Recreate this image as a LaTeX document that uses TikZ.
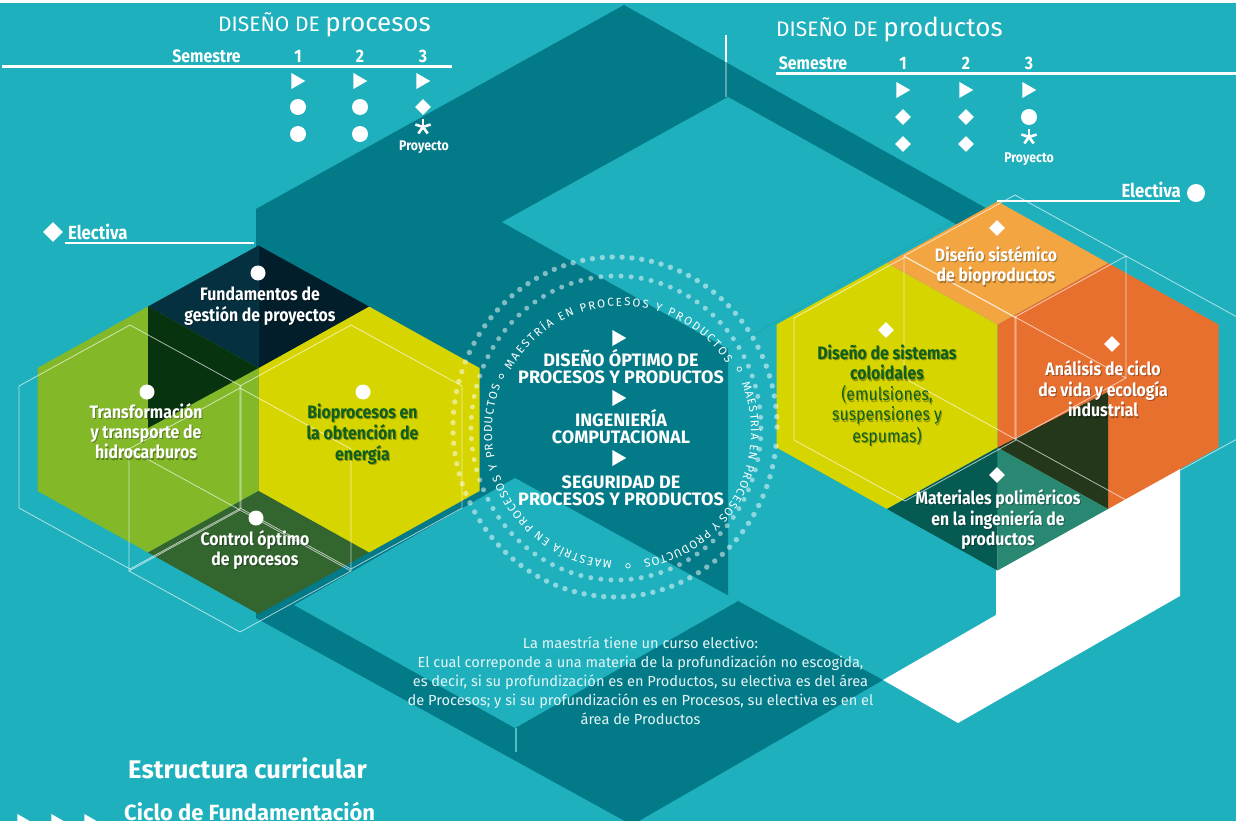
\documentclass[tikz,border=0pt]{standalone}
\usepackage{fontspec}
\setmainfont{Fira Sans}
\newfontfamily\cond[FakeStretch=0.88]{Fira Sans}
\usetikzlibrary{shapes.geometric,decorations.text}
\definecolor{bgl}{HTML}{1EB0BD}
\definecolor{bgd}{HTML}{037A88}
\definecolor{navyA}{HTML}{05303F}
\definecolor{navyB}{HTML}{021E2A}
\definecolor{dkgreen}{HTML}{07330F}
\definecolor{lgreen}{HTML}{83B829}
\definecolor{ylw}{HTML}{D6D500}
\definecolor{ctrl}{HTML}{33652F}
\definecolor{lorange}{HTML}{F2A541}
\definecolor{orng}{HTML}{E8702F}
\definecolor{matA}{HTML}{055B51}
\definecolor{matB}{HTML}{288872}
\definecolor{dkolive}{HTML}{25371A}
\definecolor{txtgreen}{HTML}{0F5F1E}
\definecolor{paratxt}{HTML}{E4F5F6}
\newcommand\ml[1]{\begin{tabular}[t]{@{}c@{}}#1\end{tabular}}
\newcommand\hexat[2]{(#1,#2) ++(0,-123) -- ++(110.5,61.5) -- ++(0,123) -- ++(-110.5,61.5) -- ++(-110.5,-61.5) -- ++(0,-123) -- cycle}
\newcommand\hexo[2]{(#1,#2) ++(0,-122) -- ++(111,61) -- ++(0,122) -- ++(-111,61) -- ++(-111,-61) -- ++(0,-122) -- cycle}
\newcommand\lbl[5]{%
  \node[#4, text=black, text opacity=0.3] (#1s) at (#2+1,#3+1.5) {\ml{#5}};
  \node[#4] (#1) at (#2,#3) {\ml{#5}};}
\tikzset{
  dotmark/.style={circle, fill=white, inner sep=0pt, minimum size=15pt},
  diamark/.style={diamond, fill=white, inner sep=0pt, minimum width=16pt, minimum height=16pt},
  trimark/.style={regular polygon, regular polygon sides=3, shape border rotate=-90, fill=white, inner sep=0pt, minimum size=18.5pt},
  hexline/.style={draw=white, draw opacity=0.65, line width=0.8pt},
  lab/.style={font=\cond\bfseries\fontsize{18}{20}\selectfont, text=white, anchor=base, inner sep=0pt},
  hb/.style={font=\cond\bfseries\fontsize{18}{18}\selectfont, text=white, inner sep=0pt},
  hd/.style={font=\fontsize{21}{21}\selectfont, text=white, inner sep=0pt, anchor=base west},
  cl/.style={font=\bfseries\fontsize{18}{18}\selectfont, text=white, inner sep=0pt, anchor=base},
  sepc/.style={circle, draw=white, line width=0.7pt, inner sep=0pt, minimum size=4.5pt},
  ringdot/.style={fill=white, fill opacity=0.5},
  circtext/.style={decorate, decoration={text along path, text color=white, text align={fit to path},
     text={|\fontsize{11.5}{11.5}\selectfont|MAESTRÍA EN PROCESOS Y PRODUCTOS}}}
}
\begin{document}
\begin{tikzpicture}[x=1pt,y=-1pt]
\useasboundingbox (0,0) rectangle (1236,821);
\fill[bgl] (0,0) rectangle (1236,821);
\fill[white] (0,0) rectangle (1236,3);
% dark background band
\fill[bgd] (624,5) -- (1000,216) -- (1000,249) -- (952,222) -- (728,349) -- (728,597) -- (738,601)
  -- (883,680) -- (632,825) -- (256,618) -- (256,209) -- cycle;
\fill[bgl] (502,222) -- (728,97) -- (952,222) -- (728,349) -- cycle;
\fill[bgl] (294,605) -- (515,478) -- (738,601) -- (515,728) -- cycle;
\draw[white, line width=2pt] (726,35) -- (726,62);
\draw[white, opacity=0.35, line width=1.5pt] (726,62) -- (726,97);
\draw[bgl!80!white, line width=1.5pt] (516,728) -- (516,752);
% white block
\fill[white] (996,520) -- (1180,420) -- (1180,596) -- (958,723) -- (883,680) -- (996,615) -- cycle;
% left cluster
\fill[lgreen] \hexat{148}{429.5};
\fill[ylw] \hexat{369}{429.5};
\fill[navyA] (258.5,245.5) -- (148,306.5) -- (258.5,368) -- cycle;
\fill[navyB] (258.5,245.5) -- (369,306.5) -- (258.5,368) -- cycle;
\fill[dkgreen] (148,306.5) -- (258.5,368) -- (148,428) -- cycle;
\fill[ctrl] (258.5,491) -- (369,552.5) -- (258.5,614) -- (148,552.5) -- cycle;
% right cluster
\fill[ylw] \hexat{887}{386};
\fill[orng] \hexat{1108}{386};
\fill[lorange] (997.5,201.5) -- (1108,263) -- (997.5,324.5) -- (887,263) -- cycle;
\fill[dkolive] (997.5,447.5) -- (1108,392) -- (1108,509) -- cycle;
\fill[matA] (997.5,447.5) -- (997.5,570.5) -- (887,509) -- cycle;
\fill[matB] (997.5,447.5) -- (1108,509) -- (997.5,570.5) -- cycle;
% outline hexagons
\path[hexline] \hexo{130}{447};
\path[hexline] \hexo{351}{447};
\path[hexline] \hexo{240}{510};
\draw[hexline] (129,449) -- (351,571);
\draw[hexline] (240,510) -- (129,571);
\path[hexline] \hexo{1015}{317};
\path[hexline] \hexo{905}{379};
\path[hexline] \hexo{1126}{378};
\draw[hexline] (904,256) -- (1126,378);
% dotted rings
\foreach \a in {0,3.5,...,356.5} \fill[ringdot] (615,427) ++(\a:162pt and 170pt) circle[radius=2.7pt];
\foreach \a in {0,4,...,356} \fill[ringdot] (616,428) ++(\a:145pt and 152pt) circle[radius=2.5pt];
% circular text
\coordinate (cc) at (621,432);
\path[circtext] (cc) ++(151:126pt) arc[start angle=151, end angle=33, radius=126pt];
\path[circtext] (cc) ++(22:130pt) arc[start angle=22, end angle=-80, radius=130pt];
\path[circtext] (cc) ++(-94:129pt) arc[start angle=-94, end angle=-201, radius=129pt];
\path (cc) ++(155:132pt) node[sepc] (s1) {};
\path (cc) ++(28:134pt) node[sepc] (s2) {};
\path (cc) ++(-87:134pt) node[sepc] (s3) {};
% centre list
\node[trimark] (c1) at (617,338) {};
\node[cl] (c1a) at (621,366) {DISEÑO ÓPTIMO DE};
\node[cl] (c1b) at (621,383) {PROCESOS Y PRODUCTOS};
\node[trimark] (c2) at (617,398) {};
\node[cl] (c2a) at (621,426) {INGENIERÍA};
\node[cl] (c2b) at (621,443) {COMPUTACIONAL};
\node[trimark] (c3) at (617,458) {};
\node[cl] (c3a) at (621,488) {SEGURIDAD DE};
\node[cl] (c3b) at (621,505) {PROCESOS Y PRODUCTOS};
% header left
\node[hd] (hL) at (218,32) {DISEÑO DE \fontsize{26}{26}\selectfont procesos};
\node[hb, anchor=base] (semL) at (206.5,63) {Semestre};
\node[hb, anchor=base] (nL1) at (298,63) {1};
\node[hb, anchor=base] (nL2) at (360,63) {2};
\node[hb, anchor=base] (nL3) at (423,63) {3};
\draw[white, line width=3pt] (2,67) -- (452,67);
\node[trimark] (tL1) at (296,81) {};
\node[trimark] (tL2) at (358,81) {};
\node[trimark] (tL3) at (421,81) {};
\node[dotmark, minimum size=16pt] (aL1) at (298,107) {};
\node[dotmark, minimum size=16pt] (aL2) at (360,107) {};
\node[diamark] (aL3) at (423,107) {};
\node[dotmark, minimum size=16pt] (bL1) at (298,134) {};
\node[dotmark, minimum size=16pt] (bL2) at (360,134) {};
\coordinate (astL) at (423,127);
\foreach \a in {90,18,-54,-126,162} \draw[white, line width=2.6pt] (astL) -- ++(\a:8pt);
\node[hb, anchor=base, font=\cond\bfseries\fontsize{14}{14}\selectfont] (pL) at (424,151) {Proyecto};
% header right
\node[hd] (hR) at (776,37) {DISEÑO DE \fontsize{26}{26}\selectfont productos};
\node[hb, anchor=base] (semR) at (813,70) {Semestre};
\node[hb, anchor=base] (nR1) at (903,70) {1};
\node[hb, anchor=base] (nR2) at (966,70) {2};
\node[hb, anchor=base] (nR3) at (1029,70) {3};
\draw[white, line width=3pt] (776,74) -- (1236,74);
\node[trimark] (tR1) at (901,90) {};
\node[trimark] (tR2) at (964,90) {};
\node[trimark] (tR3) at (1027,90) {};
\node[diamark] (aR1) at (903,117) {};
\node[diamark] (aR2) at (966,117) {};
\node[dotmark, minimum size=16pt] (aR3) at (1029,117) {};
\node[diamark] (bR1) at (903,144) {};
\node[diamark] (bR2) at (966,144) {};
\coordinate (astR) at (1029,137);
\foreach \a in {90,18,-54,-126,162} \draw[white, line width=2.6pt] (astR) -- ++(\a:8pt);
\node[hb, anchor=base, font=\cond\bfseries\fontsize{14}{14}\selectfont] (pR) at (1029,163) {Proyecto};
% electiva
\node[diamark, minimum width=20pt, minimum height=20pt] (eL) at (53,232) {};
\node[hb, anchor=base west, font=\cond\bfseries\fontsize{19}{19}\selectfont] (eLt) at (68,239) {Electiva};
\draw[white, line width=2.5pt] (65,243) -- (254,243);
\node[hb, anchor=base east, font=\cond\bfseries\fontsize{19}{19}\selectfont] (eRt) at (1181,197) {Electiva};
\node[dotmark, minimum size=18pt] (eR) at (1196,193) {};
\draw[white, line width=2.5pt] (997,201) -- (1180,201);
% hex markers
\node[dotmark] (mF) at (258,273) {};
\node[dotmark] (mT) at (147,392) {};
\node[dotmark] (mB) at (363,392) {};
\node[dotmark] (mC) at (256,518) {};
\node[diamark] (mS) at (997,228) {};
\node[diamark] (mD) at (886,330) {};
\node[diamark] (mA) at (1112,344) {};
\node[diamark] (mM) at (997,475) {};
% hex labels
\lbl{tFund}{260}{300}{lab}{Fundamentos de\\gestión de proyectos}
\lbl{tTrans}{146}{418}{lab}{Transformación\\y transporte de\\hidrocarburos}
\lbl{tBio}{362.5}{418}{lab, text=txtgreen}{Bioprocesos en\\la obtención de\\energía}
\lbl{tCtrl}{255}{545}{lab}{Control óptimo\\de procesos}
\lbl{tSist}{996}{261}{lab}{Diseño sistémico\\de bioproductos}
\lbl{tColo}{887}{359}{lab, text=txtgreen}{Diseño de sistemas\\coloidales\\{\mdseries(emulsiones,}\\{\mdseries suspensiones y}\\{\mdseries espumas)}}
\lbl{tAna}{1103}{375}{lab}{Análisis de ciclo\\de vida y ecología\\industrial}
\lbl{tMat}{998}{504}{lab}{Materiales poliméricos\\en la ingeniería de\\productos}
% paragraph
\node[anchor=base, inner sep=0pt, text=paratxt, font=\fontsize{14.6}{19}\selectfont] (note) at (640.5,648)
 {\ml{La maestría tiene un curso electivo:\\El cual correponde a una materia de la profundización no escogida,\\es decir, si su profundización es en Productos, su electiva es del área\\de Procesos; y si su profundización es en Procesos, su electiva es en el\\área de Productos}};
% bottom left
\node[anchor=base west, inner sep=0pt, text=white, font=\bfseries\fontsize{25.5}{25.5}\selectfont] (est) at (128,778) {Estructura curricular};
\node[anchor=base west, inner sep=0pt, text=white, font=\bfseries\fontsize{22}{22}\selectfont] (cic) at (124,820) {Ciclo de Fundamentación};
\node[trimark] (f1) at (22,822) {};
\node[trimark] (f2) at (56,822) {};
\node[trimark] (f3) at (89,822) {};
\end{tikzpicture}
\end{document}
